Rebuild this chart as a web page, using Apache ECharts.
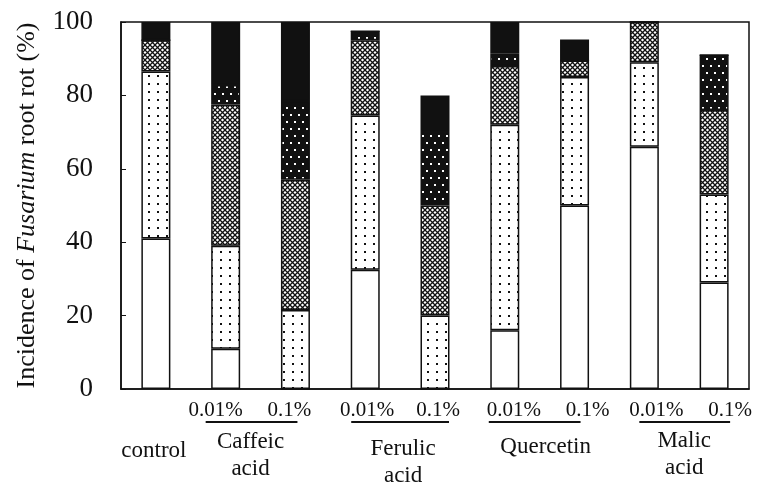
<!DOCTYPE html>
<html><head><meta charset="utf-8">
<script src="https://cdn.jsdelivr.net/npm/echarts/dist/echarts.min.js"></script>
<style>html,body{margin:0;padding:0;background:#fff}#c{width:758px;height:484px}</style>
</head><body><div id="c"></div>
<script>
// ---- data ----
const categories = ['control','Caffeic 0.01%','Caffeic 0.1%','Ferulic 0.01%','Ferulic 0.1%','Quercetin 0.01%','Quercetin 0.1%','Malic 0.01%','Malic 0.1%'];
const tickLabels = ['control','0.01%','0.1%','0.01%','0.1%','0.01%','0.1%','0.01%','0.1%'];
const groupNames = ['Caffeic\nacid','Ferulic\nacid','Quercetin','Malic\nacid'];
const groupStart = [1,3,5,7];
const yTicks = [0,20,40,60,80,100];
const class0 = [41, 11, 0, 32.5, 0, 16, 50, 66, 29];      // white
const class1 = [45.5, 28, 21.5, 42, 20, 56, 35, 23, 24];  // sparse dots
const class2 = [8.5, 38.5, 35.5, 20.5, 30, 16, 4.5, 11, 23]; // cross-hatch
const class3 = [0, 5.3, 21.5, 2.5, 20, 3.5, 0, 0, 15];     // dense dots on black
const class4 = [5, 17.2, 21.5, 0, 10, 8.5, 5.7, 0, 0];     // black

// ---- patterns ----
function mk(w,h,draw){const c=document.createElement('canvas');c.width=w;c.height=h;const g=c.getContext('2d');draw(g,w,h);return c;}
const pSparse = mk(9,8,(g,w,h)=>{g.fillStyle='#fff';g.fillRect(0,0,w,h);g.fillStyle='#111';g.fillRect(4,3,2,2);});
const pCross = mk(5,5,(g,w,h)=>{g.fillStyle='#fff';g.fillRect(0,0,w,h);g.strokeStyle='#111';g.lineWidth=1.3;
  g.beginPath();g.moveTo(-1,-1);g.lineTo(w+1,h+1);g.moveTo(w+1,-1);g.lineTo(-1,h+1);g.stroke();
  g.fillStyle='#111';g.fillRect(0,0,1,1);g.fillRect(w-1,0,1,1);g.fillRect(0,h-1,1,1);g.fillRect(w-1,h-1,1,1);});
const pDense = mk(8,14,(g,w,h)=>{g.fillStyle='#111';g.fillRect(0,0,w,h);g.fillStyle='#fff';g.fillRect(2,2,2,2);g.fillRect(6,9,2,2);});

const serif = '"Liberation Serif","Times New Roman",serif';
const fills = ['#fff',{image:pSparse,repeat:'repeat'},{image:pCross,repeat:'repeat'},{image:pDense,repeat:'repeat'},'#111'];
const values = [class0,class1,class2,class3,class4];
const names = ['class 0','class 1','class 2','class 3','class 4'];

const chart = echarts.init(document.getElementById('c'), null, {renderer:'canvas'});
chart.setOption({
  animation:false,
  backgroundColor:'#fff',
  grid:{left:121,right:9,top:22,bottom:95,show:true,borderColor:'#111',borderWidth:1.5,backgroundColor:'transparent'},
  xAxis:{type:'category',data:categories,axisLine:{lineStyle:{color:'#111',width:1.5}},axisTick:{show:false},axisLabel:{show:false}},
  yAxis:{type:'value',min:0,max:100,interval:20,
    axisLine:{show:true,lineStyle:{color:'#111',width:1.5}},
    axisTick:{show:true,inside:true,length:5,lineStyle:{color:'#111',width:1}},
    splitLine:{show:false},
    axisLabel:{fontFamily:serif,fontSize:27,color:'#111',margin:28,formatter:v=>yTicks.includes(v)?String(v):''},
    name:'{a|Incidence of }{b|Fusarium}{a| root rot (%)}',
    nameLocation:'middle',nameGap:81,nameRotate:90,
    nameTextStyle:{rich:{a:{fontFamily:serif,fontSize:26,color:'#111'},b:{fontFamily:serif,fontSize:26,fontStyle:'italic',color:'#111'}}}
  },
  series: values.map((v,i)=>({name:names[i],type:'bar',stack:'s',data:v,barWidth:29,
    itemStyle:{color:fills[i],borderColor:'#111',borderWidth:1.5}}))
});

// ---- x annotations placed from the category axis ----
const px = i => chart.convertToPixel({xAxisIndex:0}, i);
const labelDx = [-2,-10,-6,2,3,9,13,12,16];
const lineDx = [[-20,2],[-14,14],[-16,6],[-5,16]];
const groupDx = [-10,3,6,5];
const groupY = [455,462,447,454];
const g = [];
tickLabels.forEach((t,i)=>{
  g.push({type:'text',x:px(i)+labelDx[i],y:i===0?451:410,
    style:{text:t,fontFamily:serif,fontSize:i===0?23:21,fill:'#111',textAlign:'center',textVerticalAlign:'middle'}});
});
groupNames.forEach((n,k)=>{
  const a=px(groupStart[k]), b=px(groupStart[k]+1);
  g.push({type:'line',shape:{x1:a+lineDx[k][0],y1:422,x2:b+lineDx[k][1],y2:422},style:{stroke:'#111',lineWidth:2}});
  g.push({type:'text',x:(a+b)/2+groupDx[k],y:groupY[k],
    style:{text:n,fontFamily:serif,fontSize:23,lineHeight:27,fill:'#111',textAlign:'center',textVerticalAlign:'middle'}});
});
chart.setOption({graphic:g});
</script></body></html>
